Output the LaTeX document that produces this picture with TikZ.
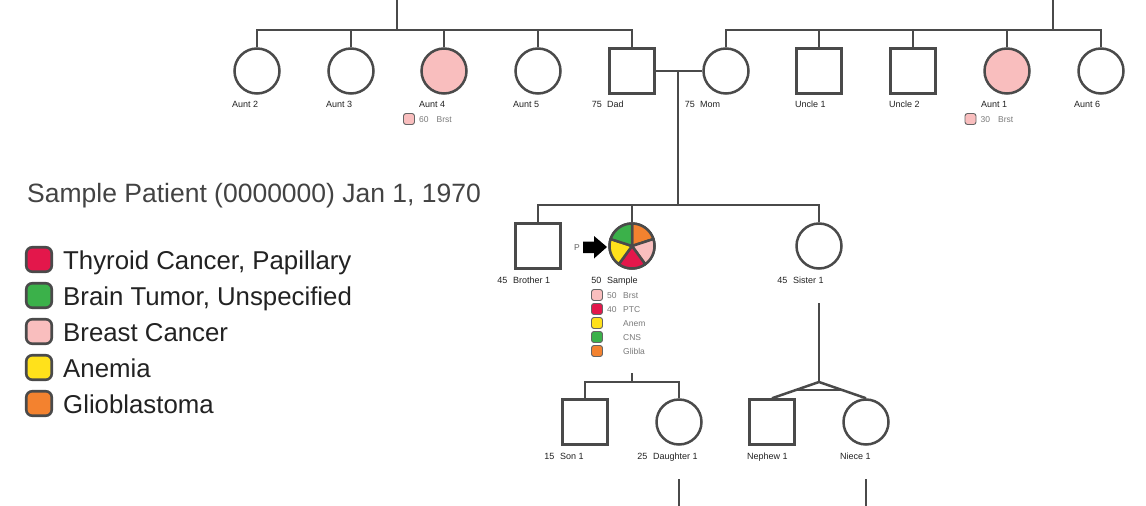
\documentclass[tikz,border=0pt]{standalone}
\usepackage{fontspec}
\setmainfont{Liberation Sans}
\usetikzlibrary{calc}
\definecolor{ln}{HTML}{4A4A4A}
\definecolor{brst}{HTML}{F9BEBE}
\definecolor{ptc}{HTML}{E3174B}
\definecolor{cns}{HTML}{3BB14A}
\definecolor{anem}{HTML}{FFE11B}
\definecolor{glio}{HTML}{F3822F}
\definecolor{txt}{HTML}{222222}
\definecolor{condc}{HTML}{7A7A7A}
\begin{document}
\begin{tikzpicture}[x=1pt,y=-1pt,
  fem/.style={circle,draw=ln,line width=2.5pt,minimum size=45pt,inner sep=0pt,fill=white},
  mal/.style={rectangle,draw=ln,line width=2.5pt,minimum size=45pt,inner sep=0pt,fill=white},
  conn/.style={draw=ln,line width=2.5pt},
  lab/.style={anchor=base west,font=\fontsize{9}{10}\selectfont,text=txt,inner sep=0pt},
  agelab/.style={anchor=base east,font=\fontsize{9}{10}\selectfont,text=txt,inner sep=0pt},
  condtxt/.style={anchor=base west,font=\fontsize{8.5}{10}\selectfont,text=condc,inner sep=0pt},
  cbox/.style={draw=ln!85,line width=0.9pt,rounded corners=2.5pt,minimum size=11pt,inner sep=0pt},
  lbox/.style={draw=ln,line width=2.6pt,rounded corners=6pt,minimum width=25.5pt,minimum height=24.5pt,inner sep=0pt},
  legtxt/.style={anchor=base west,font=\fontsize{25.8}{30}\selectfont,text=txt,inner sep=0pt},
  slice/.style={draw=ln,line width=2.5pt,line join=round}
]
\useasboundingbox (0,0) rectangle (1146,506);
\fill[white] (0,0) rectangle (1146,506);

% ---- grandparents' generation connectors
\coordinate (pgL) at (397,0);
\coordinate (sibL) at (397,30);
\coordinate (pgR) at (1053,0);
\coordinate (sibR) at (1053,30);
\coordinate (mar) at (678,71);
\coordinate (sibM) at (678,205);
\coordinate (sampDrop) at (632,373);
\coordinate (sibS) at (632,382);
\coordinate (sisDrop) at (819,303);
\coordinate (twin) at (819,382);
\coordinate (dauDown) at (679,479);
\coordinate (dauEnd) at (679,506);
\coordinate (nieDown) at (866,479);
\coordinate (nieEnd) at (866,506);

% ---- people
\node[fem] (aunt2) at (257,71) {};
\node[fem] (aunt3) at (351,71) {};
\node[fem,fill=brst] (aunt4) at (444,71) {};
\node[fem] (aunt5) at (538,71) {};
\node[mal] (dad) at (632,71) {};
\node[fem] (mom) at (726,71) {};
\node[mal] (uncle1) at (819,71) {};
\node[mal] (uncle2) at (913,71) {};
\node[fem,fill=brst] (aunt1) at (1007,71) {};
\node[fem] (aunt6) at (1101,71) {};

\node[mal] (brother) at (538,246) {};
\node[fem] (sample) at (632,246) {};
\node[fem] (sister) at (819,246) {};

\node[mal] (son) at (585,422) {};
\node[fem] (daughter) at (679,422) {};
\node[mal] (nephew) at (772,422) {};
\node[fem] (niece) at (866,422) {};

% ---- connectors
\path[conn] (pgL) -- (sibL);
\path[conn] (aunt2.north) |- (sibL) -| (dad.north);
\path[conn] (aunt3.north) -- (aunt3.north |- sibL);
\path[conn] (aunt4.north) -- (aunt4.north |- sibL);
\path[conn] (aunt5.north) -- (aunt5.north |- sibL);
\path[conn] (pgR) -- (sibR);
\path[conn] (mom.north) |- (sibR) -| (aunt6.north);
\path[conn] (uncle1.north) -- (uncle1.north |- sibR);
\path[conn] (uncle2.north) -- (uncle2.north |- sibR);
\path[conn] (aunt1.north) -- (aunt1.north |- sibR);
\path[conn] (dad.east) -- (mom.west);
\path[conn] (mar) -- (sibM);
\path[conn] (brother.north) |- (sibM) -| (sister.north);
\path[conn] (sample.north) -- (sample.north |- sibM);
\path[conn] (sampDrop) -- (sibS);
\path[conn] (son.north) |- (sibS) -| (daughter.north);
\path[conn] (sisDrop) -- (twin);
\path[conn,line join=round] (nephew.north) -- (twin) -- (niece.north);
\path[conn] ($(twin)!0.5!(nephew.north)$) -- ($(twin)!0.5!(niece.north)$);
\path[conn] (dauDown) -- (dauEnd);
\path[conn] (nieDown) -- (nieEnd);

% ---- sample pie
\filldraw[slice,fill=glio] (sample.center) -- ++(90:22.5pt) arc[start angle=90,end angle=18,radius=22.5pt] -- cycle;
\filldraw[slice,fill=brst] (sample.center) -- ++(18:22.5pt) arc[start angle=18,end angle=-54,radius=22.5pt] -- cycle;
\filldraw[slice,fill=ptc] (sample.center) -- ++(-54:22.5pt) arc[start angle=-54,end angle=-126,radius=22.5pt] -- cycle;
\filldraw[slice,fill=anem] (sample.center) -- ++(-126:22.5pt) arc[start angle=-126,end angle=-198,radius=22.5pt] -- cycle;
\filldraw[slice,fill=cns] (sample.center) -- ++(162:22.5pt) arc[start angle=162,end angle=90,radius=22.5pt] -- cycle;

% ---- proband arrow
\fill[black] (583,241.5) -- (594,241.5) -- (594,236) -- (607,247) -- (594,258.5) -- (594,253) -- (583,253) -- cycle;
\node[anchor=base east,font=\fontsize{8.5}{10}\selectfont,text=condc!80!black,inner sep=0pt] (plab) at (580,250) {P};

% ---- labels
\node[lab] (l-aunt2) at ($(aunt2.center)+(-25,36.5)$) {Aunt 2};
\node[lab] (l-aunt3) at ($(aunt3.center)+(-25,36.5)$) {Aunt 3};
\node[lab] (l-aunt4) at ($(aunt4.center)+(-25,36.5)$) {Aunt 4};
\node[lab] (l-aunt5) at ($(aunt5.center)+(-25,36.5)$) {Aunt 5};
\node[lab] (l-dad) at ($(dad.center)+(-25,36.5)$) {Dad};
\node[agelab] (a-dad) at ($(dad.center)+(-30,36.5)$) {75};
\node[lab] (l-mom) at ($(mom.center)+(-26,36.5)$) {Mom};
\node[agelab] (a-mom) at ($(mom.center)+(-31,36.5)$) {75};
\node[lab] (l-uncle1) at ($(uncle1.center)+(-24,36.5)$) {Uncle 1};
\node[lab] (l-uncle2) at ($(uncle2.center)+(-24,36.5)$) {Uncle 2};
\node[lab] (l-aunt1) at ($(aunt1.center)+(-26,36.5)$) {Aunt 1};
\node[lab] (l-aunt6) at ($(aunt6.center)+(-27,36.5)$) {Aunt 6};

\node[lab] (l-brother) at ($(brother.center)+(-25,37)$) {Brother 1};
\node[agelab] (a-brother) at ($(brother.center)+(-30.5,37)$) {45};
\node[lab] (l-sample) at ($(sample.center)+(-25,37)$) {Sample};
\node[agelab] (a-sample) at ($(sample.center)+(-30.5,37)$) {50};
\node[lab] (l-sister) at ($(sister.center)+(-26,37)$) {Sister 1};
\node[agelab] (a-sister) at ($(sister.center)+(-31.5,37)$) {45};

\node[lab] (l-son) at ($(son.center)+(-25,37)$) {Son 1};
\node[agelab] (a-son) at ($(son.center)+(-30.5,37)$) {15};
\node[lab] (l-daughter) at ($(daughter.center)+(-26,37)$) {Daughter 1};
\node[agelab] (a-daughter) at ($(daughter.center)+(-31.5,37)$) {25};
\node[lab] (l-nephew) at ($(nephew.center)+(-25,37)$) {Nephew 1};
\node[lab] (l-niece) at ($(niece.center)+(-26,37)$) {Niece 1};

% ---- condition markers
\node[cbox,fill=brst] (c-aunt4) at ($(aunt4.center)+(-35,48)$) {};
\node[condtxt] (c-aunt4a) at ($(aunt4.center)+(-25,51.5)$) {60};
\node[condtxt] (c-aunt4b) at ($(aunt4.center)+(-7.5,51.5)$) {Brst};
\node[cbox,fill=brst] (c-aunt1) at ($(aunt1.center)+(-36.5,48)$) {};
\node[condtxt] (c-aunt1a) at ($(aunt1.center)+(-26.5,51.5)$) {30};
\node[condtxt] (c-aunt1b) at ($(aunt1.center)+(-9,51.5)$) {Brst};

\node[cbox,fill=brst] (c-s1) at ($(sample.center)+(-35,49)$) {};
\node[condtxt] (c-s1a) at ($(sample.center)+(-25,52.5)$) {50};
\node[condtxt] (c-s1b) at ($(sample.center)+(-9,52.5)$) {Brst};
\node[cbox,fill=ptc] (c-s2) at ($(sample.center)+(-35,63)$) {};
\node[condtxt] (c-s2a) at ($(sample.center)+(-25,66.5)$) {40};
\node[condtxt] (c-s2b) at ($(sample.center)+(-9,66.5)$) {PTC};
\node[cbox,fill=anem] (c-s3) at ($(sample.center)+(-35,77)$) {};
\node[condtxt] (c-s3b) at ($(sample.center)+(-9,80.5)$) {Anem};
\node[cbox,fill=cns] (c-s4) at ($(sample.center)+(-35,91)$) {};
\node[condtxt] (c-s4b) at ($(sample.center)+(-9,94.5)$) {CNS};
\node[cbox,fill=glio] (c-s5) at ($(sample.center)+(-35,105)$) {};
\node[condtxt] (c-s5b) at ($(sample.center)+(-9,108.5)$) {Glibla};

% ---- header and legend
\node[anchor=base west,font=\fontsize{26.5}{30}\selectfont,text=ln!90!black,inner sep=0pt] (title) at (27,202) {Sample Patient (0000000) Jan 1, 1970};

\node[lbox,fill=ptc] (k1) at (39,259.5) {};
\node[legtxt] (t1) at (63,269.5) {Thyroid Cancer, Papillary};
\node[lbox,fill=cns] (k2) at (39,295.5) {};
\node[legtxt] (t2) at (63,305.5) {Brain Tumor, Unspecified};
\node[lbox,fill=brst] (k3) at (39,331.5) {};
\node[legtxt] (t3) at (63,341.5) {Breast Cancer};
\node[lbox,fill=anem] (k4) at (39,367.5) {};
\node[legtxt] (t4) at (63,377.5) {Anemia};
\node[lbox,fill=glio] (k5) at (39,403.5) {};
\node[legtxt] (t5) at (63,413.5) {Glioblastoma};
\end{tikzpicture}
\end{document}
